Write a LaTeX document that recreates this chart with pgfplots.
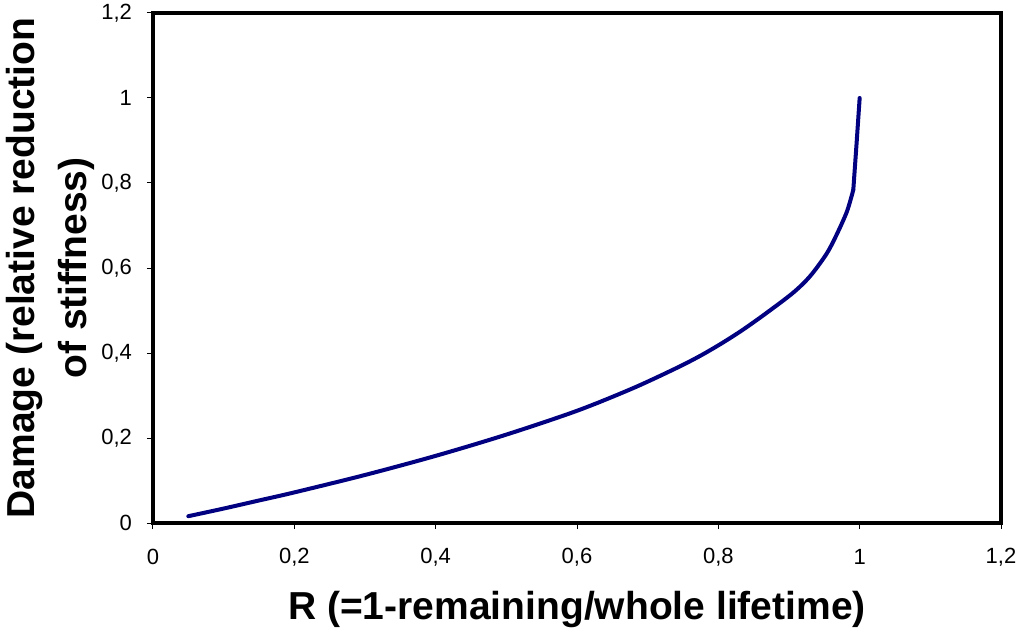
\documentclass[border=0pt]{standalone}
\usepackage{fontspec}
\setmainfont{Liberation Sans}
\usepackage{pgfplots}
\pgfplotsset{compat=1.18}
\definecolor{curve}{RGB}{0,0,128}
\begin{document}
\begin{tikzpicture}
\useasboundingbox (-76.5pt,-55pt) rectangle (435pt,261.5pt);
\begin{axis}[
  at={(0,0)}, anchor=south west,
  scale only axis,
  width=424pt, height=255pt,
  xmin=0, xmax=1.2, ymin=0, ymax=1.2,
  xtick={0,0.2,...,1.2}, ytick={0,0.2,...,1.2},
  /pgf/number format/assume math mode=true,
  /pgf/number format/use comma,
  xtick pos=bottom, ytick pos=left,
  tick align=outside,
  major tick length=3pt,
  every tick/.style={black, line width=0.5pt},
  axis line style={line width=2pt, black},
  tick label style={font=\fontsize{11pt}{13pt}\selectfont},
  xticklabel style={anchor=center, yshift=-14pt},
  yticklabel style={anchor=east, xshift=-4pt},
  clip=false,
]
\addplot[color=curve, line width=2pt, line join=round, line cap=round, smooth, tension=0.5] coordinates {
(0.05,0.016) (0.1,0.034) (0.15,0.053) (0.2,0.072) (0.3,0.113) (0.4,0.158)
(0.5,0.208) (0.6,0.264) (0.679,0.317) (0.74,0.364) (0.774,0.393) (0.805,0.423) (0.835,0.455)
(0.868,0.494) (0.906,0.542) (0.930,0.581) (0.953,0.633) (0.967,0.677)
(0.982,0.733) (0.991,0.784)
};
\addplot[color=curve, line width=2pt, line join=round, line cap=round] coordinates {
(0.991,0.784) (0.9955,0.89) (1.0,1.0)
};
\end{axis}
\node[rotate=90, align=center, font=\fontsize{19.5pt}{26pt}\selectfont\bfseries] at (-51.5pt,127.5pt) {Damage (relative reduction\\of stiffness)};
\node[font=\fontsize{19.5pt}{26pt}\selectfont\bfseries] at (212pt,-43pt) {R (=1-remaining/whole lifetime)};
\end{tikzpicture}
\end{document}
